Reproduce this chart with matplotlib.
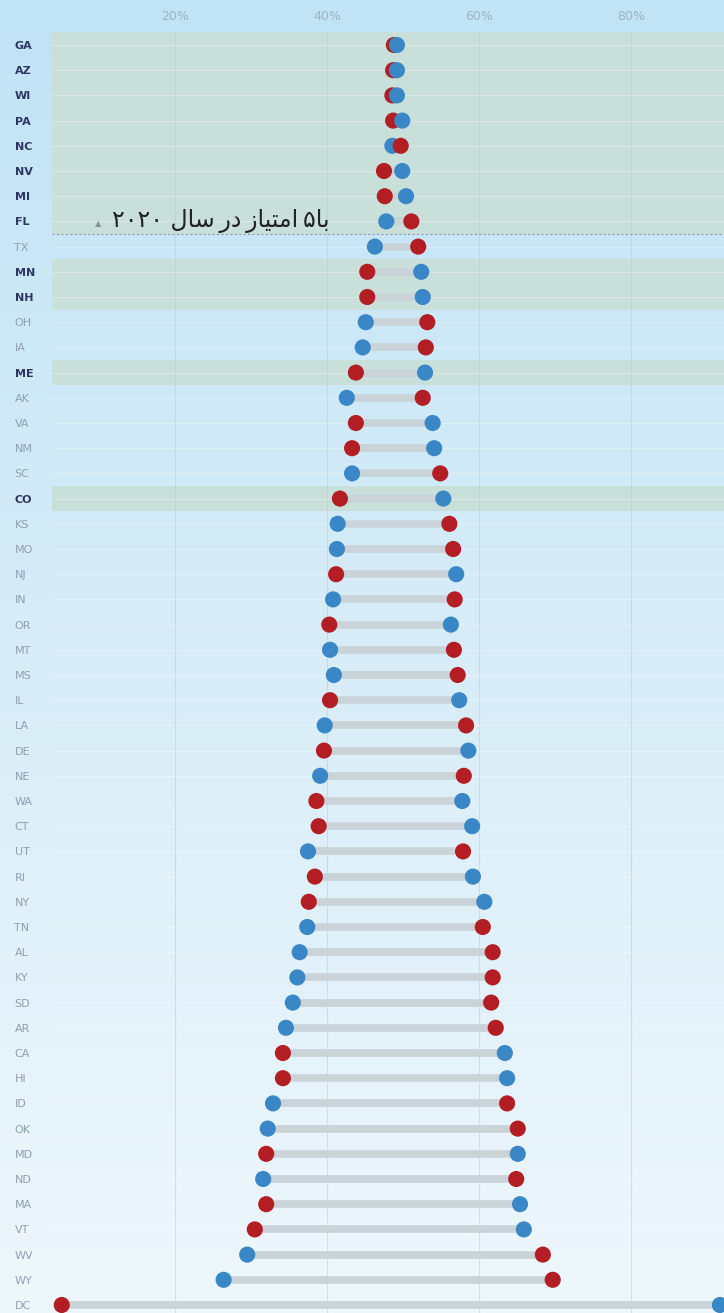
import numpy as np
import matplotlib.pyplot as plt
from matplotlib.colors import LinearSegmentedColormap

states = ['GA', 'AZ', 'WI', 'PA', 'NC', 'NV', 'MI', 'FL', 'TX', 'MN', 'NH', 'OH', 'IA',
          'ME', 'AK', 'VA', 'NM', 'SC', 'CO', 'KS', 'MO', 'NJ', 'IN', 'OR', 'MT', 'MS',
          'IL', 'LA', 'DE', 'NE', 'WA', 'CT', 'UT', 'RI', 'NY', 'TN', 'AL', 'KY', 'SD',
          'AR', 'CA', 'HI', 'ID', 'OK', 'MD', 'ND', 'MA', 'VT', 'WV', 'WY', 'DC']

# sahm ra'y (%) - jomhurikhah (qermez) va demokrat (abi)
red = [48.8, 48.7, 48.6, 48.7, 49.7, 47.5, 47.6, 51.1, 52.0, 45.3, 45.3, 53.2, 53.0,
       43.8, 52.6, 43.8, 43.3, 54.9, 41.7, 56.1, 56.6, 41.2, 56.8, 40.3, 56.7, 57.2,
       40.4, 58.3, 39.6, 58.0, 38.6, 38.9, 57.9, 38.4, 37.6, 60.5, 61.8, 61.8, 61.6,
       62.2, 34.2, 34.2, 63.7, 65.1, 32.0, 64.9, 32.0, 30.5, 68.4, 69.7, 5.1]
blue = [49.2, 49.2, 49.2, 49.9, 48.6, 49.9, 50.4, 47.8, 46.3, 52.4, 52.6, 45.1, 44.7,
        52.9, 42.6, 53.9, 54.1, 43.3, 55.3, 41.4, 41.3, 57.0, 40.8, 56.3, 40.4, 40.9,
        57.4, 39.7, 58.6, 39.1, 57.8, 59.1, 37.5, 59.2, 60.7, 37.4, 36.4, 36.1, 35.5,
        34.6, 63.4, 63.7, 32.9, 32.2, 65.1, 31.6, 65.4, 65.9, 29.5, 26.4, 91.7]

highlight = ['GA', 'AZ', 'WI', 'PA', 'NC', 'NV', 'MI', 'FL', 'MN', 'NH', 'ME', 'CO']
ticks = [20, 40, 60, 80]

RED = '#b31e24'
BLUE = '#3a87c7'

W, H = 724, 1313
fig = plt.figure(figsize=(W / 100, H / 100), dpi=100)

# background gradient
bg = fig.add_axes([0, 0, 1, 1], zorder=-10)
cmap = LinearSegmentedColormap.from_list('bg', ['#c1e3f6', '#d8edf8', '#eef7fc'])
bg.imshow(np.linspace(0, 1, 256).reshape(-1, 1), aspect='auto', cmap=cmap,
          extent=[0, 1, 0, 1], origin='upper')
bg.axis('off')

n = len(states)
top_px, row_px = 45, 25.2
ax_top = top_px - row_px / 2
ax_bot = top_px + (n - 0.5) * row_px
ax = fig.add_axes([52 / W, 1 - ax_bot / H, 1 - 52 / W, (ax_bot - ax_top) / H])
ax.patch.set_alpha(0)
ax.set_xlim((52 - 23) / 7.6, (724 - 23) / 7.6)
ax.set_ylim(n - 0.5, -0.5)

for s in ax.spines.values():
    s.set_visible(False)

# highlighted (battleground) rows
for i, s in enumerate(states):
    if s in highlight:
        ax.axhspan(i - 0.5, i + 0.5, color='#c8e0d9', zorder=0, lw=0)

for t in ticks:
    ax.axvline(t, color='#b4ccd9', lw=0.8, alpha=0.5, zorder=1)
for i in range(n):
    ax.axhline(i, color='white', lw=0.8, alpha=0.3, zorder=1)

ax.axhline(7.5, color='#8c9aa3', lw=0.8, ls=(0, (2, 2)), zorder=2)

for i in range(n):
    lo, hi = min(red[i], blue[i]), max(red[i], blue[i])
    ax.plot([lo, hi], [i, i], color='#c9d3d8', lw=5.5, solid_capstyle='butt', zorder=3)
    # the dot on the right lies on top
    if red[i] > blue[i]:
        order = [(blue[i], BLUE), (red[i], RED)]
    else:
        order = [(red[i], RED), (blue[i], BLUE)]
    for k, (v, c) in enumerate(order):
        ax.scatter(v, i, s=135, color=c, edgecolors='none', zorder=4 + k, clip_on=False)

ax.xaxis.tick_top()
ax.set_xticks(ticks)
ax.set_xticklabels([f'{t}%' for t in ticks], fontsize=9, color='#9fb3c2')
ax.tick_params(axis='x', length=0, pad=7)

ax.set_yticks(range(n))
ax.set_yticklabels(states)
ax.tick_params(axis='y', length=0, pad=27)
for lab in ax.get_yticklabels():
    lab.set_horizontalalignment('left')
    lab.set_fontsize(8)
    if lab.get_text() in highlight:
        lab.set_fontweight('bold')
        lab.set_color('#2e3663')
    else:
        lab.set_color('#8f9fb4')

# "ba 5 emtiaz dar sal 2020" - shaped by hand, visual order
note = ('\u06F2\u06F0\u06F2\u06F0 \uFEDD\uFE8E\uFEB3\u2009\uFEAD\uFEA9\u2009'
        '\uFEAF\uFE8E\uFEF4\uFE98\uFEE3\uFE8D\u2009\u06F5\uFE8E\uFE91')
ax.text((330 - 23) / 7.6, 7.0, note, ha='right', va='center', fontsize=17,
        color='#222222', family='DejaVu Sans', zorder=6)
ax.text((101 - 23) / 7.6, 7.1, '\u25B2', ha='right', va='center', fontsize=6,
        color='#8a9399', zorder=6)

fig.savefig('out.png', dpi=100)
